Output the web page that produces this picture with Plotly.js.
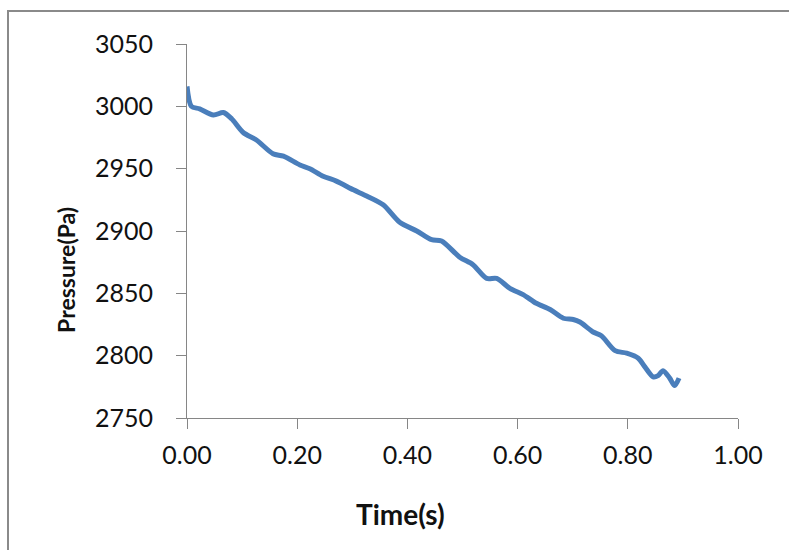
<!DOCTYPE html>
<html>
<head>
<meta charset="utf-8">
<script src="https://cdn.plot.ly/plotly-3.0.1.min.js"></script>
<style>
  html, body { margin: 0; padding: 0; background: #fff; }
  #wrap { position: relative; width: 789px; height: 550px; overflow: hidden; }
  #chart { position: absolute; left: 0; top: 0; width: 789px; height: 550px; }
  #frame { position: absolute; left: 7px; top: 10px; width: 800px; height: 600px;
           border-left: 2px solid #8a8a8a; border-top: 2px solid #8a8a8a; pointer-events: none; }
</style>
</head>
<body>
<div id="wrap">
  <div id="chart"></div>
  <div id="frame"></div>
</div>
<script>
const time = [0.000, 0.008, 0.023, 0.048, 0.066, 0.081, 0.102, 0.126, 0.156, 0.175,
              0.205, 0.223, 0.247, 0.271, 0.302, 0.326, 0.356, 0.386, 0.417, 0.444,
              0.462, 0.495, 0.519, 0.544, 0.562, 0.586, 0.610, 0.634, 0.659, 0.683,
              0.701, 0.713, 0.737, 0.752, 0.777, 0.798, 0.819, 0.831, 0.846, 0.855,
              0.864, 0.876, 0.885, 0.893];
const pressure = [3016, 3000, 2998, 2993, 2995, 2990, 2979, 2973, 2962, 2960,
                  2953, 2950, 2944, 2940, 2933, 2928, 2921, 2907, 2900, 2893,
                  2892, 2879, 2873, 2862, 2862, 2854, 2849, 2842, 2837, 2830,
                  2829, 2827, 2819, 2816, 2804, 2802, 2798, 2791, 2783, 2784,
                  2788, 2782, 2776, 2782];
const xTicks = [0, 0.2, 0.4, 0.6, 0.8, 1.0];
const yTicks = [2750, 2800, 2850, 2900, 2950, 3000, 3050];
const xTitle = "Time(s)";
const yTitle = "Pressure(Pa)";

const FONT = "Lato, 'Open Sans', sans-serif";

Plotly.newPlot("chart", [{
  x: time,
  y: pressure,
  type: "scatter",
  mode: "lines",
  line: { color: "#4a7ebb", width: 5, shape: "spline", smoothing: 0.8 },
  hoverinfo: "skip"
}], {
  width: 789, height: 550,
  margin: { l: 187, r: 51, t: 44, b: 132, pad: 0 },
  paper_bgcolor: "#fff",
  plot_bgcolor: "#fff",
  showlegend: false,
  font: { family: FONT, size: 25, color: "#111" },
  xaxis: {
    range: [0, 1],
    tickvals: xTicks,
    tickformat: ".2f",
    showgrid: false, zeroline: false,
    showline: true, linecolor: "#868686", linewidth: 1,
    ticks: "outside", ticklen: 10, tickcolor: "#868686", tickwidth: 1,
    ticklabelstandoff: 5,
    tickfont: { family: FONT, size: 25, color: "#111" }
  },
  yaxis: {
    range: [2750, 3050],
    tickvals: yTicks,
    showgrid: false, zeroline: false,
    showline: true, linecolor: "#868686", linewidth: 1,
    ticks: "outside", ticklen: 10, tickcolor: "#868686", tickwidth: 1,
    ticklabelstandoff: 18,
    tickfont: { family: FONT, size: 25, color: "#111" }
  },
  annotations: [
    { text: "<b>" + xTitle + "</b>", xref: "paper", yref: "paper",
      x: 0.388, y: -0.257, xanchor: "center", yanchor: "middle",
      showarrow: false, font: { family: FONT, size: 28, color: "#111" } },
    { text: "<b>" + yTitle + "</b>", xref: "paper", yref: "paper",
      x: -0.2196, y: 0.396, xanchor: "center", yanchor: "middle",
      textangle: -90, showarrow: false, font: { family: FONT, size: 23, color: "#111" } }
  ]
}, { displayModeBar: false, staticPlot: true });
</script>
</body>
</html>
